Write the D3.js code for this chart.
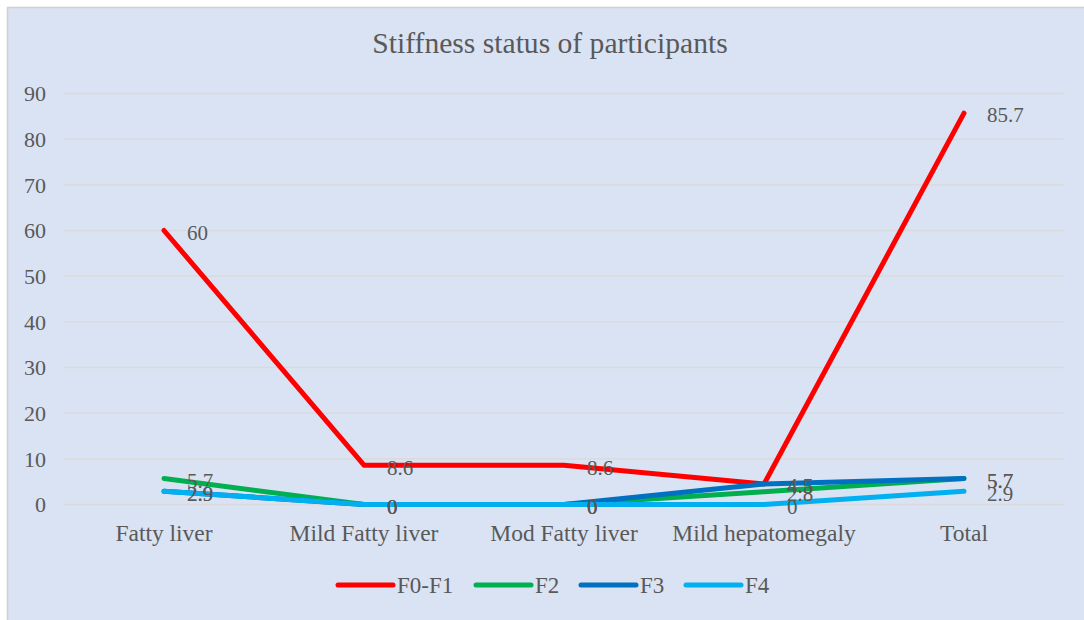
<!DOCTYPE html>
<html>
<head>
<meta charset="utf-8">
<script src="https://cdn.jsdelivr.net/npm/d3@7"></script>
<style>
html,body{margin:0;padding:0;background:#fff;}
svg{display:block;}
text{font-family:"Liberation Serif","Times New Roman",serif;fill:#595959;}
</style>
</head>
<body>
<svg id="chart" width="1084" height="620"></svg>
<script>
const categories = ["Fatty liver", "Mild Fatty liver", "Mod Fatty liver", "Mild hepatomegaly", "Total"];
const seriesNames = ["F0-F1", "F2", "F3", "F4"];
const f0f1 = [60, 8.6, 8.6, 4.5, 85.7];
const f2 = [5.7, 0, 0, 2.8, 5.7];
const f3 = [2.9, 0, 0, 4.5, 5.7];
const f4 = [2.9, 0, 0, 0, 2.9];
const yTicks = [0, 10, 20, 30, 40, 50, 60, 70, 80, 90];
const colors = ["#ff0000", "#00b050", "#0070c0", "#00b0f0"];
const titleText = "Stiffness status of participants";

const series = [f0f1, f2, f3, f4].map((v, i) => ({name: seriesNames[i], values: v, color: colors[i]}));

const svg = d3.select("#chart");
svg.append("rect").attr("x", 7.5).attr("y", 7.5).attr("width", 1084).attr("height", 620)
  .attr("fill", "#dae3f3").attr("stroke", "#d0d0d0").attr("stroke-width", 1.5);

const plot = {left: 64, right: 1064, top: 93.5, bottom: 504.5};
const x = d3.scaleBand().domain(categories).range([plot.left, plot.right]);
const y = d3.scaleLinear().domain([0, 90]).range([plot.bottom, plot.top]);

svg.append("text").attr("x", 550).attr("y", 53).attr("text-anchor", "middle")
  .style("font-size", "29.6px").text(titleText);

// gridlines
svg.append("g").selectAll("line").data(yTicks).join("line")
  .attr("x1", plot.left).attr("x2", plot.right)
  .attr("y1", d => y(d)).attr("y2", d => y(d))
  .attr("stroke", "#d9d9d9").attr("stroke-width", 1.3);

// y axis labels
const yAxis = d3.axisLeft(y).tickValues(yTicks).tickSize(0).tickPadding(18);
const yg = svg.append("g").attr("transform", `translate(${plot.left},0)`).call(yAxis);
yg.select(".domain").remove();
yg.selectAll("text").style("font-size", "22px").style("font-family", "Liberation Serif").attr("fill", "#595959").attr("dy", "0.33em");

// x axis labels
const xAxis = d3.axisBottom(x).tickSize(0).tickPadding(20);
const xg = svg.append("g").attr("transform", `translate(0,${plot.bottom})`).call(xAxis);
xg.select(".domain").remove();
xg.selectAll("text").style("font-size", "23.5px").style("font-family", "Liberation Serif").attr("fill", "#595959");

const line = d3.line().x((d, i) => x(categories[i]) + x.bandwidth() / 2).y(d => y(d));

svg.append("g").selectAll("path").data(series).join("path")
  .attr("d", d => line(d.values))
  .attr("fill", "none").attr("stroke", d => d.color)
  .attr("stroke-width", 5).attr("stroke-linejoin", "round").attr("stroke-linecap", "round");

// data labels
const lg = svg.append("g");
series.forEach(s => {
  lg.selectAll(null).data(s.values).join("text")
    .attr("x", (d, i) => x(categories[i]) + x.bandwidth() / 2 + 23)
    .attr("y", d => y(d) + 2)
    .attr("dy", "0.35em")
    .style("font-size", "21px")
    .attr("fill", "#404040")
    .text(d => d);
});

// legend
const legendX = [338, 476, 581, 686];
const legend = svg.append("g").selectAll("g").data(series).join("g")
  .attr("transform", (d, i) => `translate(${legendX[i]},585)`);
legend.append("line").attr("x1", 0).attr("x2", 55).attr("y1", 0).attr("y2", 0)
  .attr("stroke", d => d.color).attr("stroke-width", 5).attr("stroke-linecap", "round");
legend.append("text").attr("x", 59).attr("y", 0).attr("dy", "0.35em")
  .style("font-size", "23px").text(d => d.name);
</script>
</body>
</html>
